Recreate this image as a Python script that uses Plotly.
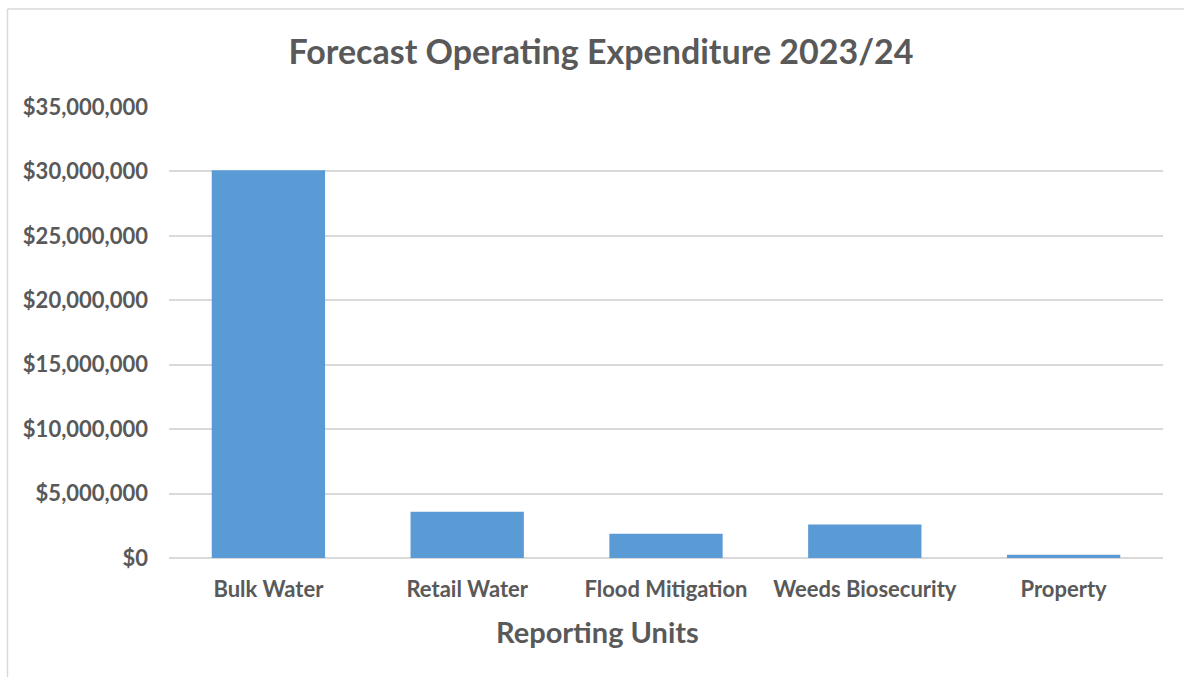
import plotly.graph_objects as go

categories = ["Bulk Water", "Retail Water", "Flood Mitigation", "Weeds Biosecurity", "Property"]
values = [30100000, 3580000, 1880000, 2600000, 250000]
y_ticks = [0, 5000000, 10000000, 15000000, 20000000, 25000000, 30000000, 35000000]

W, H = 1184, 677
L, R, T, B = 169, 1163, 107, 558.5
pw, ph = R - L, B - T

def px_x(x):
    return (x - L) / pw

def px_y(y):
    return (B - y) / ph

txt = "#595959"
font = "Lato"

fig = go.Figure()
fig.add_trace(go.Bar(x=categories, y=values, marker=dict(color="#5B9BD5", line=dict(width=0))))

fig.update_layout(
    width=W, height=H,
    margin=dict(l=L, r=W - R, t=T, b=H - B, autoexpand=False),
    paper_bgcolor="white", plot_bgcolor="white",
    bargap=0.43,
    showlegend=False,
    title=dict(text="<b>Forecast Operating Expenditure 2023/24</b>", xref="container", yref="container",
               x=601 / W, y=1 - 52 / H, xanchor="center", yanchor="middle",
               font=dict(family=font, size=34, color=txt)),
    font=dict(family=font, color=txt),
)
fig.update_xaxes(showgrid=False, showline=False, zeroline=False, ticks="",
                 tickfont=dict(family=font, size=22, color=txt, weight="bold"),
                 ticklabelstandoff=16)
fig.update_yaxes(range=[0, 35000000], tickvals=y_ticks, tickformat="$,.0f",
                 showgrid=True, gridcolor="#D9D9D9", gridwidth=2,
                 zeroline=True, zerolinecolor="#D9D9D9", zerolinewidth=2,
                 showline=False, ticks="",
                 tickfont=dict(family=font, size=22, color=txt, weight="bold"),
                 ticklabelstandoff=20)

fig.add_annotation(text="<b>Reporting Units</b>", xref="paper", yref="paper",
                   x=px_x(597), y=px_y(632), xanchor="center", yanchor="middle",
                   showarrow=False, font=dict(family=font, size=29, color=txt))

# chart-area border (left and top edges visible)
fig.add_shape(type="line", xref="paper", yref="paper", x0=px_x(7.5), x1=px_x(7.5),
              y0=px_y(9), y1=px_y(700), line=dict(color="#D9D9D9", width=1.5), layer="below")
fig.add_shape(type="line", xref="paper", yref="paper", x0=px_x(7.5), x1=px_x(1200),
              y0=px_y(9), y1=px_y(9), line=dict(color="#D9D9D9", width=1.5), layer="below")

fig.write_html("out.html")
